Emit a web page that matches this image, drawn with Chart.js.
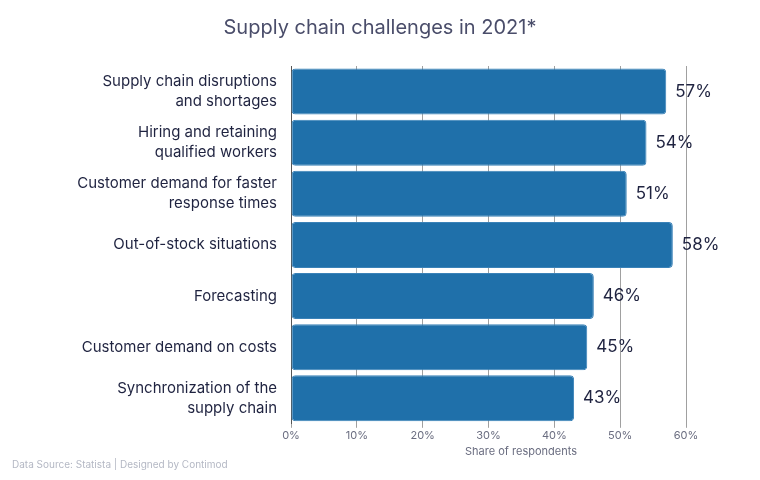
<!DOCTYPE html>
<html>
<head>
<meta charset="utf-8">
<script src="https://cdn.jsdelivr.net/npm/chart.js@4.4.1/dist/chart.umd.min.js"></script>
<style>
  html, body { margin: 0; padding: 0; background: #fff; }
  #wrap { width: 760px; height: 480px; position: relative; }
</style>
</head>
<body>
<div id="wrap"><canvas id="myChart" width="760" height="480"></canvas></div>
<script>
const categories = [
  ["Supply chain disruptions", "and shortages"],
  ["Hiring and retaining", "qualified workers"],
  ["Customer demand for faster", "response times"],
  "Out-of-stock situations",
  "Forecasting",
  "Customer demand on costs",
  ["Synchronization of the", "supply chain"]
];
const shares = [57, 54, 51, 58, 46, 45, 43];
const xTicks = [0, 10, 20, 30, 40, 50, 60];

const fontFamily = "Inter, 'Noto Sans', sans-serif";

// value labels, title, axis title and footer drawn by hand
const extras = {
  id: 'extras',
  afterDatasetsDraw(chart) {
    const ctx = chart.ctx;
    const meta = chart.getDatasetMeta(0);
    ctx.save();
    ctx.font = "17px " + fontFamily;
    ctx.fillStyle = "#1f2340";
    ctx.textBaseline = "middle";
    meta.data.forEach((bar, i) => {
      ctx.fillText(shares[i] + "%", bar.x + 9, bar.y);
    });
    ctx.restore();
  },
  afterDraw(chart) {
    const ctx = chart.ctx;
    ctx.save();
    ctx.textBaseline = "middle";

    ctx.font = "20px " + fontFamily;
    ctx.fillStyle = "#4a4d6a";
    ctx.textAlign = "center";
    ctx.fillText("Supply chain challenges in 2021*", 380, 28);

    ctx.font = "11px " + fontFamily;
    ctx.fillStyle = "#6a6d80";
    ctx.fillText("Share of respondents", 521, 452);

    ctx.font = "10px " + fontFamily;
    ctx.fillStyle = "#b4b8c4";
    ctx.textAlign = "left";
    ctx.fillText("Data Source: Statista | Designed by Contimod", 12, 465);
    ctx.restore();
  }
};

new Chart(document.getElementById("myChart"), {
  type: 'bar',
  data: {
    labels: categories,
    datasets: [{
      data: shares,
      backgroundColor: "#1f70aa",
      borderColor: "#3a82b8",
      borderWidth: 1,
      borderRadius: 4,
      borderSkipped: false,
      barPercentage: 0.9,
      categoryPercentage: 1.0
    }]
  },
  options: {
    indexAxis: 'y',
    responsive: false,
    animation: false,
    layout: { padding: { left: 0, right: 74, top: 66, bottom: 37 } },
    plugins: {
      legend: { display: false },
      tooltip: { enabled: false },
      title: { display: false }
    },
    scales: {
      x: {
        min: 0,
        max: 60,
        afterBuildTicks(scale) {
          scale.ticks = xTicks.map(v => ({ value: v }));
        },
        ticks: {
          callback: v => v + "%",
          color: "#6a6d80",
          font: { family: fontFamily, size: 11 },
          padding: 1
        },
        grid: { color: "#a0a0a0", lineWidth: 1, drawTicks: true, tickLength: 4 },
        border: { display: false }
      },
      y: {
        afterFit(scale) { scale.width = 291; },
        ticks: {
          color: "#1f2340",
          font: { family: fontFamily, size: 15, lineHeight: 1.35 },
          padding: 6
        },
        grid: { display: false },
        border: { display: true, color: "#555" }
      }
    }
  },
  plugins: [extras]
});
</script>
</body>
</html>
